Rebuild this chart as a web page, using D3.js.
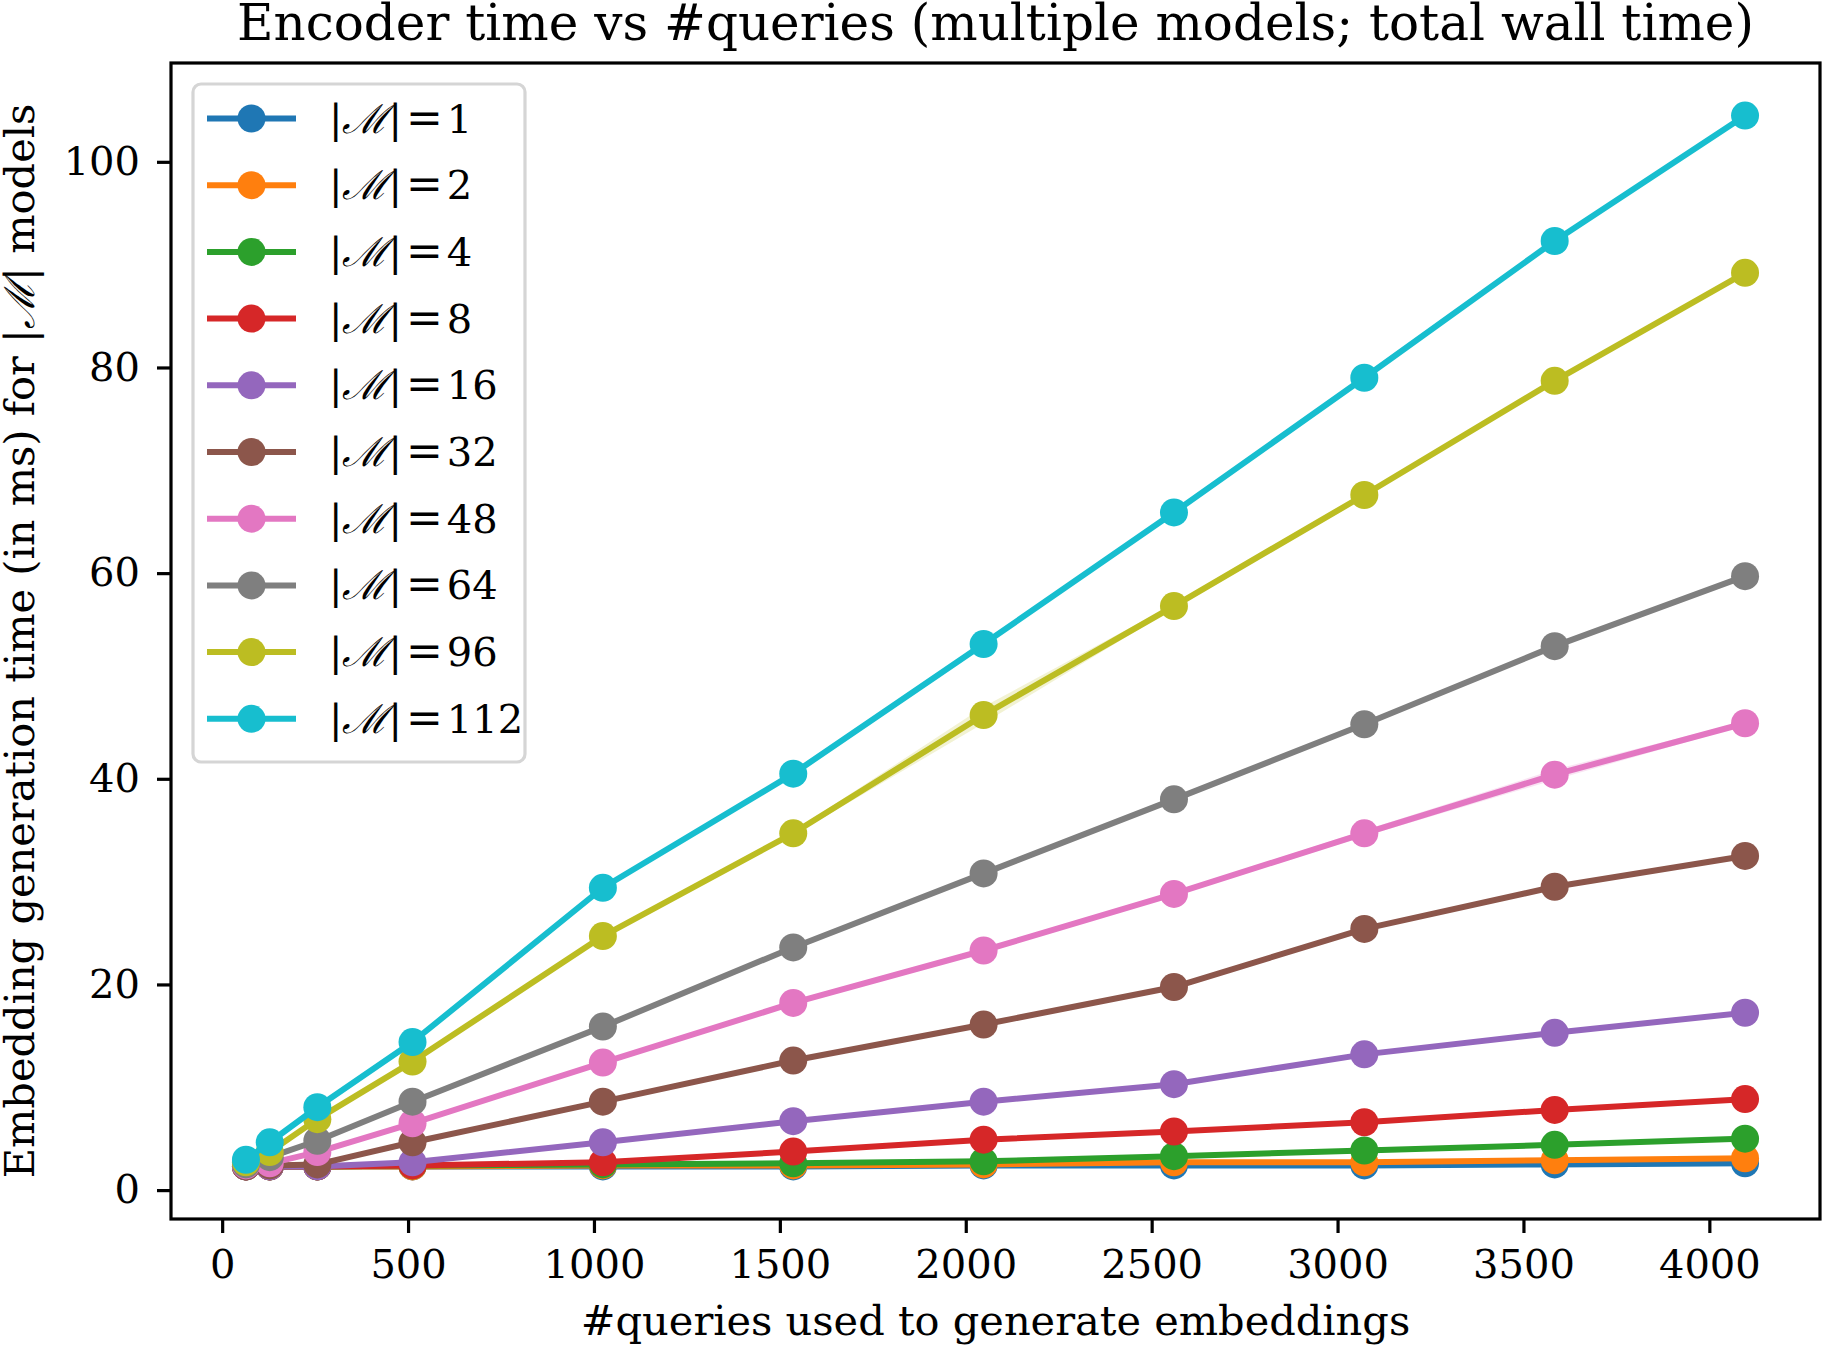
<!DOCTYPE html>
<html>
<head>
<meta charset="utf-8">
<script src="https://cdn.jsdelivr.net/npm/d3@7"></script>
<style>
  html, body { margin: 0; padding: 0; background: #fff; }
  svg { display: block; font-family: "DejaVu Serif", serif; }
</style>
</head>
<body>
<div id="chart"></div>
<script>
// Data
const queries = [64, 128, 256, 512, 1024, 1536, 2048, 2560, 3072, 3584, 4096];
const modelCounts = [1, 2, 4, 8, 16, 32, 48, 64, 96, 112];

const time1 = [2.3, 2.3, 2.3, 2.3, 2.3, 2.3, 2.4, 2.4, 2.4, 2.5, 2.6];
const time2 = [2.3, 2.3, 2.3, 2.3, 2.4, 2.4, 2.5, 2.7, 2.7, 2.9, 3.1];
const time4 = [2.3, 2.3, 2.3, 2.4, 2.5, 2.6, 2.8, 3.3, 3.85, 4.4, 5.0];
const time8 = [2.3, 2.3, 2.3, 2.4, 2.7, 3.75, 4.9, 5.7, 6.6, 7.8, 8.85];
const time16 = [2.3, 2.3, 2.3, 2.7, 4.65, 6.7, 8.6, 10.3, 13.2, 15.3, 17.25];
const time32 = [2.3, 2.4, 2.5, 4.65, 8.6, 12.6, 16.1, 19.75, 25.4, 29.5, 32.5];
const time48 = [2.4, 2.6, 3.7, 6.5, 12.4, 18.2, 23.3, 28.8, 34.7, 40.4, 45.4];
const time64 = [2.5, 3.2, 4.8, 8.6, 15.9, 23.6, 30.8, 38.0, 45.3, 52.9, 59.7];
const time96 = [2.7, 3.7, 6.9, 12.5, 24.7, 34.7, 46.2, 56.8, 67.6, 78.7, 89.2];
const time112 = [2.95, 4.65, 8.06, 14.4, 29.4, 40.5, 53.1, 65.9, 79.0, 92.3, 104.5];

// faint confidence band half-widths (only visible on two series)
const band48 = [0, 0, 0, 0, 0, 0.1, 0.1, 0.2, 0.3, 0.5, 0.2];
const band96 = [0, 0, 0, 0, 0, 0.2, 0.8, 0.2, 0.1, 0.1, 0.1];

const yTicks = [0, 20, 40, 60, 80, 100];
const xTicks = [0, 500, 1000, 1500, 2000, 2500, 3000, 3500, 4000];

const colors = ['#1f77b4', '#ff7f0e', '#2ca02c', '#d62728', '#9467bd',
                '#8c564b', '#e377c2', '#7f7f7f', '#bcbd22', '#17becf'];

const titleText = 'Encoder time vs #queries (multiple models; total wall time)';
const xLabel = '#queries used to generate embeddings';

const seriesValues = [time1, time2, time4, time8, time16, time32, time48, time64, time96, time112];
const seriesBands = [null, null, null, null, null, null, band48, null, band96, null];

const series = modelCounts.map((m, i) => ({
  m,
  color: colors[i],
  band: seriesBands[i],
  points: queries.map((q, j) => ({ x: q, y: seriesValues[i][j], h: seriesBands[i] ? seriesBands[i][j] : 0 })),
}));

const width = 1822;
const height = 1346;
const plot = { left: 171, right: 1820, top: 63, bottom: 1219 };

const svg = d3.select('#chart').append('svg')
  .attr('width', width)
  .attr('height', height);

// matplotlib style 5% margins
const xExt = d3.extent(queries);
const xPad = (xExt[1] - xExt[0]) * 0.05;
const allY = seriesValues.flat();
const yExt = d3.extent(allY);
const yPad = (yExt[1] - yExt[0]) * 0.05;

const x = d3.scaleLinear()
  .domain([xExt[0] - xPad, xExt[1] + xPad])
  .range([plot.left, plot.right]);

const y = d3.scaleLinear()
  .domain([yExt[0] - yPad, yExt[1] + yPad])
  .range([plot.bottom, plot.top]);

const plotArea = svg.append('g');

// bands
const area = d3.area()
  .x(d => x(d.x))
  .y0(d => y(d.y - d.h))
  .y1(d => y(d.y + d.h));

series.filter(s => s.band).forEach(s => {
  plotArea.append('path')
    .datum(s.points)
    .attr('fill', s.color)
    .attr('fill-opacity', 0.2)
    .attr('d', area);
});

// lines + markers, drawn in series order so |M|=112 sits on top
const line = d3.line()
  .x(d => x(d.x))
  .y(d => y(d.y));

series.forEach(s => {
  const g = plotArea.append('g');
  g.append('path')
    .datum(s.points)
    .attr('fill', 'none')
    .attr('stroke', s.color)
    .attr('stroke-width', 6)
    .attr('stroke-linejoin', 'round')
    .attr('stroke-linecap', 'square')
    .attr('d', line);
  g.selectAll('circle')
    .data(s.points)
    .join('circle')
    .attr('cx', d => x(d.x))
    .attr('cy', d => y(d.y))
    .attr('r', 14)
    .attr('fill', s.color);
});

// axes
const xAxis = g => g
  .attr('transform', `translate(0, ${plot.bottom})`)
  .call(d3.axisBottom(x).tickValues(xTicks).tickSize(14).tickPadding(17).tickFormat(d3.format('d')));

const yAxis = g => g
  .attr('transform', `translate(${plot.left}, 0)`)
  .call(d3.axisLeft(y).tickValues(yTicks).tickSize(14).tickPadding(17).tickFormat(d3.format('d')));

[svg.append('g').call(xAxis), svg.append('g').call(yAxis)].forEach(ax => {
  ax.select('.domain').remove();
  ax.selectAll('line').attr('stroke', '#000').attr('stroke-width', 3.2);
  ax.selectAll('text')
    .attr('fill', '#000')
    .style('font-family', '"DejaVu Serif", serif')
    .style('font-size', '40px');
});

// frame
svg.append('rect')
  .attr('x', plot.left)
  .attr('y', plot.top)
  .attr('width', plot.right - plot.left)
  .attr('height', plot.bottom - plot.top)
  .attr('fill', 'none')
  .attr('stroke', '#000')
  .attr('stroke-width', 3.2);

// title and labels
svg.append('text')
  .attr('x', (plot.left + plot.right) / 2)
  .attr('y', 40)
  .attr('text-anchor', 'middle')
  .style('font-size', '50px')
  .text(titleText);

svg.append('text')
  .attr('x', (plot.left + plot.right) / 2)
  .attr('y', 1335)
  .attr('text-anchor', 'middle')
  .style('font-size', '41.5px')
  .text(xLabel);

const yl = svg.append('text')
  .attr('transform', `translate(34, ${(plot.top + plot.bottom) / 2}) rotate(-90)`)
  .attr('text-anchor', 'middle')
  .style('font-size', '41.5px');
yl.append('tspan').text('Embedding generation time (in ms) for |');
yl.append('tspan').style('font-style', 'italic').text('\u2133');
yl.append('tspan').text('| models');

// legend
const legend = svg.append('g').attr('transform', 'translate(193, 84)');
legend.append('rect')
  .attr('width', 332)
  .attr('height', 678)
  .attr('rx', 8)
  .attr('fill', '#fff')
  .attr('fill-opacity', 0.8)
  .attr('stroke', '#d5d5d5')
  .attr('stroke-width', 3.2);

series.forEach((s, i) => {
  const row = legend.append('g').attr('transform', `translate(0, ${34.5 + i * 66.7})`);
  row.append('line')
    .attr('x1', 14).attr('x2', 103)
    .attr('stroke', s.color)
    .attr('stroke-width', 6);
  row.append('circle')
    .attr('cx', 58.5)
    .attr('r', 14)
    .attr('fill', s.color);
  const t = row.append('text')
    .attr('x', 136)
    .attr('dy', '0.35em')
    .style('font-size', '40px');
  t.append('tspan').text('|');
  t.append('tspan').style('font-style', 'italic').text('\u2133');
  t.append('tspan').text('|');
  t.append('tspan').attr('dx', 4).style('font-size', '44px').text('=');
  t.append('tspan').attr('dx', 4).text(s.m);
});
</script>
</body>
</html>
